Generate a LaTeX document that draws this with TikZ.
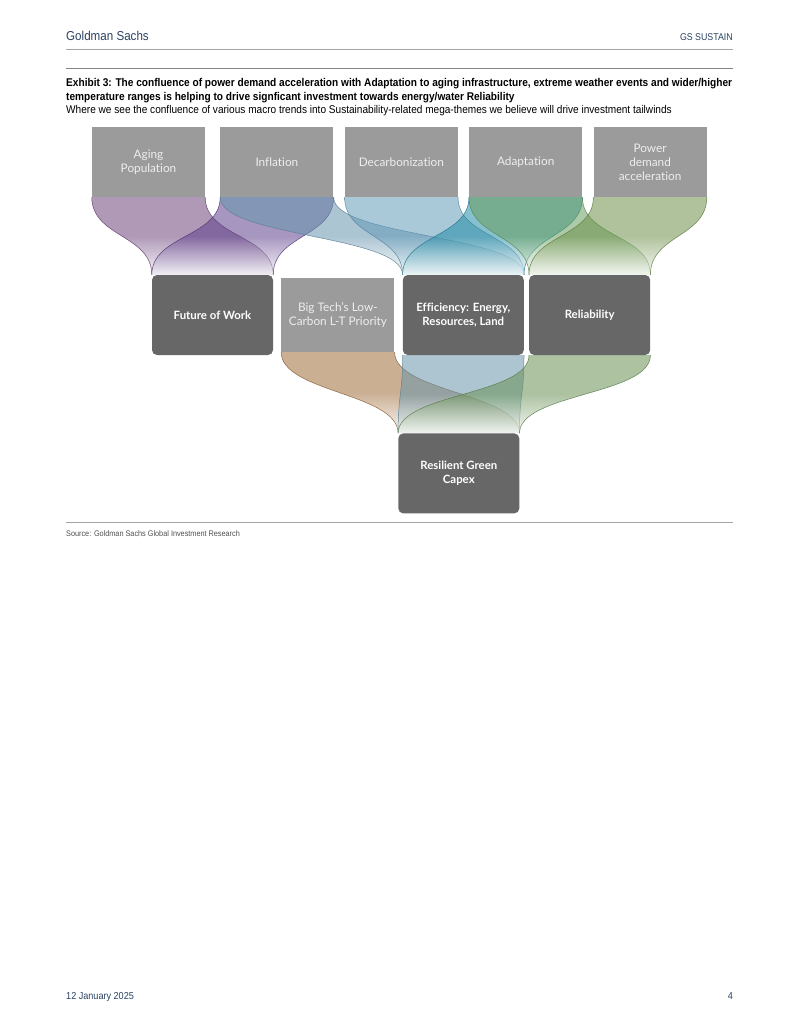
\documentclass[tikz,border=0pt]{standalone}
\usepackage{fontspec}
\setmainfont{Liberation Sans}
\newfontfamily\condfont[FakeStretch=0.9]{Liberation Sans}
\newfontfamily\trendfont[Ligatures=NoCommon]{Lato}
\usepackage{xcolor}
\usepackage{tikz}
\usetikzlibrary{positioning,calc,backgrounds}
\pgfdeclarelayer{paper}
\pgfsetlayers{paper,background,main}
\definecolor{gsnavy}{RGB}{42,66,98}
\definecolor{rulegray}{RGB}{165,165,165}
\definecolor{trendgray}{RGB}{155,155,155}
\definecolor{trendtext}{RGB}{238,238,238}
\definecolor{themegray}{RGB}{103,103,103}
\definecolor{sourcegray}{RGB}{80,80,80}
% ribbon colours
\definecolor{agingpurple}{RGB}{110,70,125}
\definecolor{inflviolet}{RGB}{95,65,140}
\definecolor{inflmist}{RGB}{105,150,175}
\definecolor{decarbblue}{RGB}{100,155,185}
\definecolor{adaptteal}{RGB}{35,140,165}
\definecolor{adaptgreen}{RGB}{105,160,95}
\definecolor{powersage}{RGB}{110,145,75}
\definecolor{techtan}{RGB}{160,110,60}
\definecolor{effmist}{RGB}{105,150,172}
\definecolor{relsage}{RGB}{105,145,85}
\tikzset{
  trend/.style={rectangle, fill=trendgray, minimum width=113pt, minimum height=70pt, inner sep=0pt, align=center, text=trendtext, font=\trendfont\fontsize{11.8}{14}\selectfont},
  theme/.style={rectangle, rounded corners=5pt, fill=themegray, minimum width=121pt, minimum height=80pt, inner sep=0pt, align=center, text=white, font=\trendfont\bfseries\fontsize{11.4}{14}\selectfont},
  rule/.style={draw=rulegray, line width=0.8pt},
  pagetext/.style={inner sep=0pt, text=gsnavy},
}
% one ribbon from the bottom of #1 to the top of #2
\newcommand{\flow}[3]{%
  \shade[top color=#3, bottom color=#3!10!white, middle color=#3, fill opacity=0.55]
    (#1.south west) .. controls +(0,40) and +(0,-40) .. (#2.north west)
    -- (#2.north east) .. controls +(0,-40) and +(0,40) .. (#1.south east) -- cycle;
  \draw[draw=#3!85!black, line width=0.5pt, draw opacity=0.9]
    (#1.south west) .. controls +(0,40) and +(0,-40) .. (#2.north west)
    (#2.north east) .. controls +(0,-40) and +(0,40) .. (#1.south east);
}

\begin{document}
\begin{tikzpicture}[x=1pt, y=-1pt]
  \begin{pgfonlayer}{paper}
    \fill[white] (0,0) rectangle (800,1035);
  \end{pgfonlayer}
  \useasboundingbox (0,0) rectangle (800,1035);

  % Page head
  \node[pagetext, anchor=base west, font=\condfont\fontsize{12.9}{15}\selectfont] (firm) at (66,41) {Goldman Sachs};
  \node[pagetext, anchor=base east, font=\condfont\fontsize{9.8}{11}\selectfont] (series) at (733,40.5) {GS SUSTAIN};
  \draw[rule] (66,49) -- (733,49);
  \draw[rule, draw=rulegray!80!black] (66,68) -- (733,68);

  % Exhibit title
  \node[anchor=north west, inner sep=0pt, align=left, font=\condfont\bfseries\fontsize{11.25}{14}\selectfont] (exhibit) at (66,78) {%
    Exhibit 3: The confluence of power demand acceleration with Adaptation to aging infrastructure, extreme weather events and wider/higher\\
    temperature ranges is helping to drive signficant investment towards energy/water Reliability};
  \node[anchor=base west, inner sep=0pt, font=\condfont\fontsize{11.2}{13}\selectfont] (lede) at (66,114) {Where we see the confluence of various macro trends into Sustainability-related mega-themes we believe will drive investment tailwinds};

  % Macro trends
  \node[trend] (aging) at (148.5,162) {Aging\\Population};
  \node[trend, right=15pt of aging] (inflation) {Inflation};
  \node[trend, right=11pt of inflation] (decarb) {Decarbonization};
  \node[trend, right=11pt of decarb] (adapt) {Adaptation};
  \node[trend, right=11pt of adapt] (power) {Power\\demand\\acceleration};

  % Mega-themes
  \node[theme] (work) at (212.5,315) {Future of Work};
  \node[trend, minimum height=74pt, right=8pt of work] (bigtech) {Big Tech’s Low-\\Carbon L-T Priority};
  \node[theme, right=8pt of bigtech] (effic) {Efficiency: Energy,\\Resources, Land};
  \node[theme, right=5pt of effic] (reliab) {Reliability};

  % Outcome
  \node[theme, below=78pt of effic, xshift=-4.5pt] (capex) {Resilient Green\\Capex};

  % Ribbons
  \begin{scope}[on background layer]
    \flow{aging}{work}{agingpurple}
    \flow{inflation}{work}{inflviolet}
    \flow{inflation}{effic}{inflmist}
    \flow{decarb}{effic}{decarbblue}
    \flow{adapt}{effic}{adaptteal}
    \flow{adapt}{reliab}{adaptgreen}
    \flow{power}{reliab}{powersage}
    \flow{bigtech}{capex}{techtan}
    \flow{effic}{capex}{effmist}
    \flow{reliab}{capex}{relsage}
  \end{scope}

  % Page foot
  \draw[rule] (66,522) -- (733,522);
  \node[anchor=base west, inner sep=0pt, text=sourcegray, font=\condfont\fontsize{8.1}{10}\selectfont] (source) at (66,536) {Source: Goldman Sachs Global Investment Research};
  \node[pagetext, anchor=base west, font=\condfont\fontsize{10.1}{12}\selectfont] (date) at (66,999) {12 January 2025};
  \node[pagetext, anchor=base east, font=\condfont\fontsize{10.1}{12}\selectfont] (pageno) at (733,999) {4};
\end{tikzpicture}
\end{document}
